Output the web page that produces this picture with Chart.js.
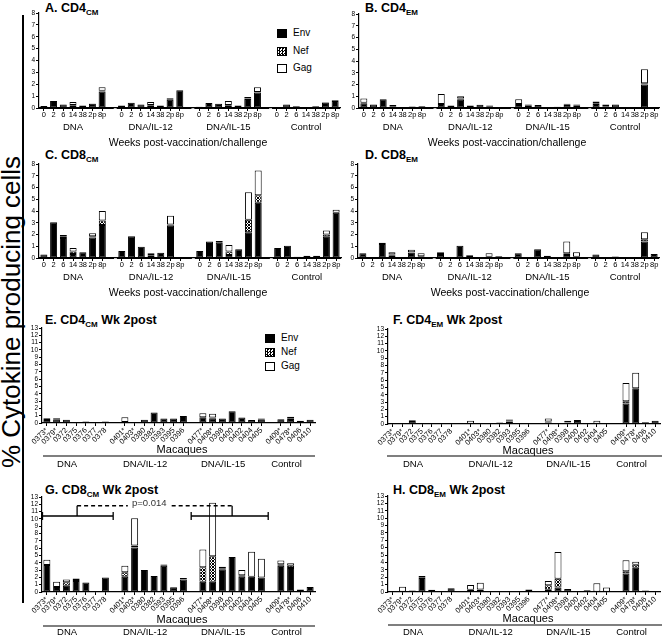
<!DOCTYPE html>
<html><head><meta charset="utf-8">
<script src="https://cdn.jsdelivr.net/npm/chart.js@4.4.1/dist/chart.umd.min.js"></script>
<style>
body{margin:0;background:#fff;width:664px;height:636px;overflow:hidden;position:relative;font-family:'Liberation Sans',Arial,Helvetica,sans-serif;}
canvas{position:absolute;left:0;top:0;}
.t{position:absolute;font-weight:bold;font-size:12.5px;line-height:12px;white-space:nowrap;color:#000;}
.t sub{font-size:8px;vertical-align:-3px;line-height:0;}
.ylab{position:absolute;width:420px;height:26px;line-height:26px;font-size:26px;text-align:center;transform:rotate(-90deg);white-space:nowrap;}
.vline{position:absolute;left:22px;top:15px;width:1.5px;height:588px;background:#000;}
.lg{position:absolute;font-size:10px;line-height:10px;white-space:nowrap;}
.sw{display:inline-block;width:10px;height:9px;border:1px solid #000;box-sizing:border-box;vertical-align:middle;margin-right:6px;}
.nefsw{background-color:#fff;background-image:repeating-conic-gradient(#000 0 25%, #fff 0 50%);background-size:3px 3px;}
</style>
</head><body>
<div class="ylab" style="left:-199px;top:299px;">% Cytokine producing cells</div>
<div class="vline"></div>
<div class="t" style="left:45px;top:2px;">A. CD4<sub>CM</sub></div>
<div class="t" style="left:365px;top:2px;">B. CD4<sub>EM</sub></div>
<div class="t" style="left:45px;top:149px;">C. CD8<sub>CM</sub></div>
<div class="t" style="left:365px;top:149px;">D. CD8<sub>EM</sub></div>
<div class="t" style="left:45px;top:314px;">E. CD4<sub>CM</sub> Wk 2post</div>
<div class="t" style="left:393px;top:314px;">F. CD4<sub>EM</sub> Wk 2post</div>
<div class="t" style="left:45px;top:484px;">G. CD8<sub>CM</sub> Wk 2post</div>
<div class="t" style="left:393px;top:484px;">H. CD8<sub>EM</sub> Wk 2post</div>
<div class="lg" style="left:277px;top:28px;"><span class="sw" style="background:#000"></span>Env</div>
<div class="lg" style="left:277px;top:46px;"><span class="sw nefsw"></span>Nef</div>
<div class="lg" style="left:277px;top:63px;"><span class="sw" style="background:#fff"></span>Gag</div>
<div class="lg" style="left:265px;top:333px;"><span class="sw" style="background:#000"></span>Env</div>
<div class="lg" style="left:265px;top:347px;"><span class="sw nefsw"></span>Nef</div>
<div class="lg" style="left:265px;top:361px;"><span class="sw" style="background:#fff"></span>Gag</div>
<script>
// ---------- categories ----------
const weeks = ['0','2','6','14','38','2p','8p'];
const groups = ['DNA','DNA/IL-12','DNA/IL-15','Control'];
const macDNA = ['0373*','0379*','0372','0375','0376','0377','0378'];
const macIL12 = ['0401*','0403*','0380','0382','0393','0395','0396'];
const macIL15 = ['0477*','0408*','0398','0400','0402','0404','0405'];
const macCtrl = ['0409*','0478*','0406','0410'];
const yTicksTime = [0,1,2,3,4,5,6,7,8];
const yTicksMac = [0,1,2,3,4,5,6,7,8,9,10,11,12,13];

// ---------- A. CD4 CM (DNA, IL-12, IL-15, Control x weeks) ----------
const aEnv = [0.17,0.6,0.3,0.2,0.22,0.35,1.4, 0.22,0.45,0.3,0.2,0.22,0.7,1.5, 0.1,0.42,0.35,0.2,0.22,0.75,1.3, 0,0.3,0.15,0.05,0.15,0.45,0.6];
const aNef = [0,0,0,0.05,0,0,0.05, 0,0,0,0.05,0,0.05,0, 0,0,0,0.05,0,0.05,0.05, 0,0,0,0,0,0.03,0.05];
const aGag = [0,0,0,0.25,0,0.03,0.3, 0,0,0,0.25,0,0.08,0, 0,0,0,0.35,0,0.12,0.4, 0,0,0,0,0,0.02,0];
// ---------- B. CD4 EM ----------
const bEnv = [0.4,0.3,0.75,0.15,0.05,0.12,0.15, 0.35,0.22,0.7,0.22,0.28,0.15,0.05, 0.25,0.2,0.25,0.05,0.1,0.25,0.2, 0.35,0.15,0.3,0.05,0.02,2.0,0];
const bNef = [0.05,0,0,0,0,0,0, 0,0,0.1,0,0,0,0, 0.1,0,0,0,0,0.02,0, 0.05,0,0,0,0,0.1,0];
const bGag = [0.35,0,0,0.1,0,0,0, 0.85,0,0.2,0,0,0.07,0, 0.4,0.1,0,0,0,0.1,0.1, 0.15,0.15,0,0,0,1.2,0];
// ---------- C. CD8 CM ----------
const cEnv = [0.3,3.05,1.7,0.35,0.5,1.75,2.8, 0.6,1.85,0.95,0.2,0.45,2.75,0, 0.6,1.4,1.3,0.25,0.75,2.2,4.7, 0.85,1.05,0.1,0.2,0.2,1.8,3.85];
const cNef = [0,0,0.1,0.2,0,0.1,0.4, 0,0,0,0.05,0,0.1,0, 0,0,0,0.3,0,1.05,0.65, 0,0,0,0,0,0.2,0];
const cGag = [0,0,0.15,0.3,0,0.25,0.8, 0,0,0,0.15,0,0.75,0, 0,0,0.15,0.55,0,2.35,2.1, 0,0,0,0,0,0.35,0.25];
// ---------- D. CD8 EM ----------
const dEnv = [0.4,0.05,1.2,0.2,0.05,0.45,0.15, 0.35,0.05,1.05,0.2,0.08,0.1,0.15, 0.4,0.08,0.75,0.2,0.08,0.25,0.1, 0.3,0.05,0.12,0.03,0.02,1.4,0.35];
const dNef = [0,0,0,0.1,0,0.05,0, 0,0,0,0,0,0,0, 0,0,0,0,0,0.15,0, 0,0,0,0,0,0.2,0];
const dGag = [0,0,0.1,0.2,0,0.2,0.25, 0.15,0,0,0.05,0,0.3,0, 0,0,0,0,0,1.0,0.4, 0,0,0,0,0,0.6,0];
// ---------- E. CD4 CM Wk 2post (per macaque) ----------
const eEnv = [0.4,0.5,0.45,0,0.2,0,0.2, 0.15,0,0.45,1.45,0.6,0.6,0.95, 0.8,0.65,0.6,1.6,0.75,0.4,0.45, 0.5,0.55,0.3,0.45];
const eNef = [0,0,0,0,0,0,0, 0,0,0,0,0,0,0, 0,0.1,0,0,0,0,0, 0,0.1,0,0];
const eGag = [0.25,0.15,0,0,0,0,0, 0.65,0,0,0,0,0,0, 0.55,0.5,0,0,0,0,0.15, 0,0.2,0,0];
// ---------- F. CD4 EM Wk 2post ----------
const fEnv = [0,0.1,0.4,0,0.1,0,0, 0.05,0,0.1,0.2,0.35,0,0.1, 0.2,0,0.2,0.55,0.1,0.05,0.1, 2.8,4.9,0.25,0.45];
const fNef = [0,0,0,0,0,0,0, 0,0,0,0,0.1,0,0, 0.15,0,0.05,0,0,0,0, 0.3,0,0,0];
const fGag = [0,0,0.1,0,0,0,0, 0.4,0,0,0,0.15,0,0, 0.4,0,0.2,0,0,0.4,0, 2.5,2.1,0,0];
// ---------- G. CD8 CM Wk 2post ----------
const gEnv = [3.7,0.7,0.85,1.5,1.3,0,2.0, 2.1,6.1,3.0,2.2,3.6,0.65,1.7, 1.4,1.4,3.1,4.8,2.1,2.1,2.0, 3.6,3.3,0.35,0.7];
const gNef = [0,0,0.5,0.15,0,0,0, 0.6,0.25,0,0,0,0,0, 2.0,3.5,0.15,0,0.2,0,0, 0.2,0.3,0,0];
const gGag = [0.7,0.7,0.35,0.2,0,0,0, 0.9,3.75,0,0,0.15,0,0.2, 2.4,7.3,0.2,0,0.7,3.4,2.55, 0.5,0.35,0,0];
// ---------- H. CD8 EM Wk 2post ----------
const hEnv = [0.1,0.05,0.1,1.9,0.3,0,0.5, 0.1,0.35,0.05,0.03,0,0,0.1, 0.3,0.6,0.4,0.15,0.25,0.05,0.05, 2.5,3.3,0.2,0.05];
const hNef = [0,0,0,0.1,0,0,0, 0.2,0,0,0,0,0,0, 0.6,1.2,0,0,0,0,0, 0.3,0.4,0,0];
const hGag = [0,0.65,0.1,0.15,0,0,0, 0.65,0.9,0,0,0,0,0.25, 0.6,3.6,0,0,0,1.15,0.55, 1.5,0.4,0,0];
// significance annotation (panel G)
const pText = 'p=0.014';

// ---------- helpers ----------
const FAM = "'Liberation Sans', Arial, Helvetica, sans-serif";
Chart.defaults.font.family = FAM;
Chart.defaults.color = '#000';

const pc = document.createElement('canvas'); pc.width = 3; pc.height = 3;
const pg = pc.getContext('2d');
pg.fillStyle = '#fff'; pg.fillRect(0,0,3,3);
pg.fillStyle = '#000'; pg.fillRect(0,0,1,1); pg.fillRect(2,0,1,1); pg.fillRect(1,1,1,1); pg.fillRect(0,2,1,1); pg.fillRect(2,2,1,1);

function withGaps(arrs, fillVal) {
  const out = [];
  arrs.forEach((a, i) => { if (i) out.push(fillVal); out.push(...a); });
  return out;
}
function split(arr, sizes) {
  const res = []; let k = 0;
  sizes.forEach(n => { res.push(arr.slice(k, k + n)); k += n; });
  return res;
}
const timeSizes = [7,7,7,7];
const macSizes = [7,7,7,4];
const timeLabels = withGaps([weeks, weeks, weeks, weeks], '');
const macLabels = withGaps([macDNA, macIL12, macIL15, macCtrl], '');

function groupRanges(sizes) {
  const r = []; let k = 0;
  sizes.forEach(n => { r.push([k, k + n - 1]); k += n + 1; });
  return r;
}

const extras = {
  id: 'extras',
  afterDraw(chart) {
    const e = chart.options.plugins.extras;
    if (!e) return;
    const c = chart.ctx, xs = chart.scales.x, ys = chart.scales.y;
    const w = xs.getPixelForValue(1) - xs.getPixelForValue(0);
    const ranges = e.ranges;
    c.save();
    c.fillStyle = '#000'; c.strokeStyle = '#000';
    if (e.segmented) {
      c.lineWidth = 1.2;
      ranges.forEach((r, i) => {
        const x0 = xs.getPixelForValue(r[0]) - 0.5 * w;
        const x1 = xs.getPixelForValue(r[1]) + (i === ranges.length - 1 ? 0.5 : 1.2) * w;
        c.beginPath(); c.moveTo(x0, ys.bottom + 0.5); c.lineTo(x1, ys.bottom + 0.5); c.stroke();
      });
    }
    c.font = `${e.groupSize}px ${FAM}`; c.textAlign = 'center'; c.textBaseline = 'middle';
    ranges.forEach((r, i) => {
      const xm = (xs.getPixelForValue(r[0]) + xs.getPixelForValue(r[1])) / 2 + (e.groupShift || 0);
      c.fillText(groups[i], xm, e.groupY);
    });
    if (e.title) {
      c.font = `${e.titleSize}px ${FAM}`;
      c.fillText(e.title, e.titleX, e.titleY);
    }
    if (e.line) {
      c.lineWidth = 1.2;
      c.beginPath(); c.moveTo(e.line[0], e.line[2]); c.lineTo(e.line[1], e.line[2]); c.stroke();
    }
    if (e.bracket) {
      const b = e.bracket;
      const X = v => xs.getPixelForValue(v), Y = v => ys.getPixelForValue(v);
      c.lineWidth = 1.3;
      const hbar = (a, bb, yv) => {
        c.beginPath(); c.moveTo(X(a), Y(yv)); c.lineTo(X(bb), Y(yv));
        c.moveTo(X(a), Y(yv) - 4); c.lineTo(X(a), Y(yv) + 4);
        c.moveTo(X(bb), Y(yv) - 4); c.lineTo(X(bb), Y(yv) + 4);
        c.stroke();
      };
      hbar(b.l[0], b.l[1], b.low);
      hbar(b.r[0], b.r[1], b.low);
      c.beginPath();
      c.moveTo(X(b.lm), Y(b.low)); c.lineTo(X(b.lm), Y(b.high));
      c.moveTo(X(b.rm), Y(b.low)); c.lineTo(X(b.rm), Y(b.high));
      c.stroke();
      c.setLineDash([4, 3]);
      c.beginPath();
      c.moveTo(X(b.lm), Y(b.high)); c.lineTo(X(b.d1), Y(b.high));
      c.moveTo(X(b.d2), Y(b.high)); c.lineTo(X(b.rm), Y(b.high));
      c.stroke();
      c.setLineDash([]);
      c.font = `9.5px ${FAM}`; c.fillStyle = '#333';
      c.fillText(pText, X(b.tx), Y(b.ty));
    }
    c.restore();
  }
};

function makeChart(o) {
  const cv = document.createElement('canvas');
  cv.width = 664; cv.height = 636;
  cv.style.width = '664px'; cv.style.height = '636px';
  document.body.appendChild(cv);
  const isMac = o.mac;
  const sizes = isMac ? macSizes : timeSizes;
  const labels = isMac ? macLabels : timeLabels;
  const YW = 16, XH = isMac ? 24 : 13;
  const blanks = new Set(); labels.forEach((l, i) => { if (l === '') blanks.add(i); });
  const mk = (label, data, bg) => ({
    label, data: withGaps(split(data, sizes), null), backgroundColor: bg,
    borderColor: '#000', borderWidth: 1, borderSkipped: false,
    categoryPercentage: 1, barPercentage: 0.72
  });
  const ctx = cv.getContext('2d');
  const nefPat = ctx.createPattern(pc, 'repeat');
  return new Chart(cv, {
    type: 'bar',
    data: {
      labels,
      datasets: [mk('Env', o.env, '#000'), mk('Nef', o.nef, nefPat), mk('Gag', o.gag, '#fff')]
    },
    options: {
      responsive: false, animation: false, devicePixelRatio: 1,
      layout: { padding: { left: o.l - YW, right: 664 - o.r, top: o.t, bottom: 636 - o.b - XH } },
      plugins: {
        legend: { display: false }, tooltip: { enabled: false },
        extras: {
          ranges: groupRanges(sizes), segmented: !isMac,
          groupY: o.groupY, groupSize: 9.5, groupShift: isMac ? -9 : 0,
          title: o.title, titleX: o.titleX, titleY: o.titleY, titleSize: o.titleSize,
          line: o.line, bracket: o.bracket
        }
      },
      scales: {
        x: {
          stacked: true, offset: true,
          grid: { display: true, offset: false, drawOnChartArea: false, drawTicks: true, tickLength: 3,
                  color: c => blanks.has(c.index) ? 'rgba(0,0,0,0)' : '#000', lineWidth: 1 },
          border: { display: isMac, color: '#000', width: 1.2 },
          ticks: { autoSkip: false, maxRotation: isMac ? 45 : 0, minRotation: isMac ? 45 : 0,
                   font: { size: isMac ? 7.5 : 7.5 }, color: '#000', padding: isMac ? 0 : -1 },
          afterFit: s => { s.height = XH; }
        },
        y: {
          stacked: true, min: 0, max: isMac ? 13 : 8,
          afterBuildTicks: s => { s.ticks = (isMac ? yTicksMac : yTicksTime).map(v => ({ value: v })); },
          grid: { display: true, drawOnChartArea: false, tickLength: 3, color: '#000', lineWidth: 1 },
          border: { display: true, color: '#000', width: 1.2 },
          ticks: { autoSkip: false, font: { size: 6.5 }, color: '#000', padding: 1 },
          afterFit: s => { s.width = YW; }
        }
      }
    },
    plugins: [extras]
  });
}

const WT = 'Weeks post-vaccination/challenge';
makeChart({ env: aEnv, nef: aNef, gag: aGag, l: 39, r: 340, t: 13, b: 108, groupY: 127, title: WT, titleX: 188, titleY: 143, titleSize: 10.5 });
makeChart({ env: bEnv, nef: bNef, gag: bGag, l: 359, r: 659, t: 14, b: 108, groupY: 127, title: WT, titleX: 507, titleY: 143, titleSize: 10.5 });
makeChart({ env: cEnv, nef: cNef, gag: cGag, l: 39, r: 341, t: 164, b: 258, groupY: 277, title: WT, titleX: 188, titleY: 293, titleSize: 10.5 });
makeChart({ env: dEnv, nef: dNef, gag: dGag, l: 358, r: 659, t: 164, b: 258, groupY: 277, title: WT, titleX: 510, titleY: 293, titleSize: 10.5 });
makeChart({ mac: true, env: eEnv, nef: eNef, gag: eGag, l: 42, r: 315, t: 328, b: 423, groupY: 464, title: 'Macaques', titleX: 182, titleY: 450, titleSize: 11, line: [43, 315, 456] });
makeChart({ mac: true, env: fEnv, nef: fNef, gag: fGag, l: 388, r: 660, t: 329, b: 424, groupY: 464, title: 'Macaques', titleX: 528, titleY: 451, titleSize: 11, line: [387, 662, 456] });
makeChart({ mac: true, env: gEnv, nef: gNef, gag: gGag, l: 42, r: 315, t: 497, b: 592, groupY: 632, title: 'Macaques', titleX: 182, titleY: 620, titleSize: 11, line: [43, 315, 626],
  bracket: { l: [-0.45, 6.8], r: [14.8, 22.7], lm: 3.1, rm: 19.0, low: 10.4, high: 11.8, d1: 8.3, d2: 12.8, tx: 10.5, ty: 12.1 } });
makeChart({ mac: true, env: hEnv, nef: hNef, gag: hGag, l: 388, r: 660, t: 496, b: 592, groupY: 632, title: 'Macaques', titleX: 528, titleY: 619, titleSize: 11, line: [388, 662, 625] });
</script>
</body></html>
